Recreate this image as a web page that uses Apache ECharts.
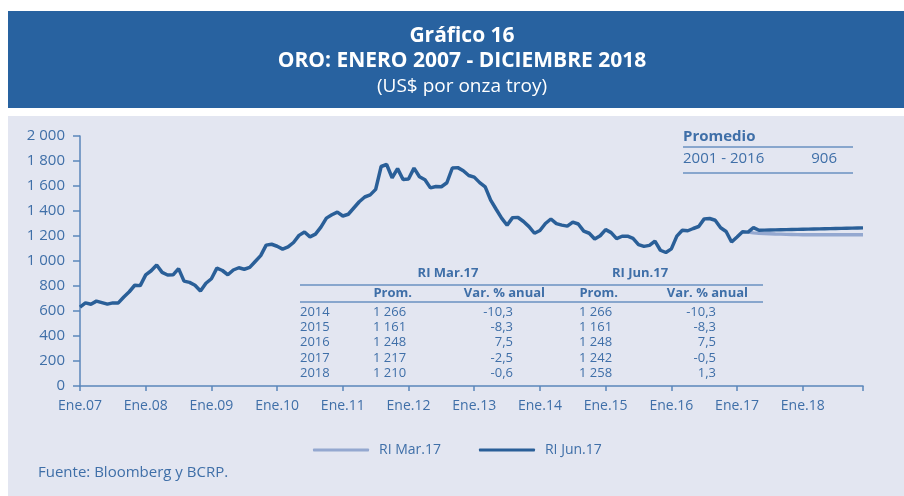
<!DOCTYPE html>
<html><head><meta charset="utf-8">
<script src="https://cdn.jsdelivr.net/npm/echarts@6/dist/echarts.min.js"></script>
<style>html,body{margin:0;padding:0;background:#fff}#c{width:904px;height:496px}</style>
</head><body><div id="c"></div>
<script>
// ---- data ----
const yearsShort = ['07','08','09','10','11','12','13','14','15','16','17','18'];
const monthNames = ['Ene','Feb','Mar','Abr','May','Jun','Jul','Ago','Set','Oct','Nov','Dic'];
const tickLabels = ['Ene.07','Ene.08','Ene.09','Ene.10','Ene.11','Ene.12','Ene.13','Ene.14','Ene.15','Ene.16','Ene.17','Ene.18'];
// Historical monthly average Jan 2007 - Mar 2017
const hist = [
 631,665,654,679,667,655,665,665,712,754,806,803,
 889,922,968,909,888,889,939,839,829,806,760,822,
 858,943,924,890,928,946,934,949,996,1043,1127,1134,
 1118,1095,1113,1148,1205,1232,1193,1215,1271,1343,1370,1391,
 1360,1374,1424,1474,1512,1529,1573,1756,1772,1666,1739,1652,
 1656,1743,1674,1650,1585,1596,1594,1626,1744,1747,1722,1684,
 1671,1627,1593,1487,1414,1343,1286,1347,1348,1316,1275,1222,
 1244,1300,1336,1299,1287,1279,1311,1296,1239,1222,1176,1202,
 1251,1227,1179,1198,1199,1181,1131,1117,1125,1159,1086,1068,
 1097,1199,1246,1242,1260,1276,1337,1340,1326,1266,1236,1152,
 1192,1234,1231
];
// Forecasts Apr 2017 - Dec 2018
const fcJun17 = [1267,1246,1247,1248,1249,1250,1251,1252,1253,1254,1255,1256,1257,1258,1259,1260,1261,1262,1263,1264,1265];
const fcMar17 = [1225,1222,1220,1218,1216,1215,1213,1212,1211,1210,1210,1210,1210,1210,1210,1210,1210,1210,1210,1210,1210];
const seriesNames = ['RI Mar.17','RI Jun.17'];
// Table
const tblYears = ['2014','2015','2016','2017','2018'];
const marProm = ['1 266','1 161','1 248','1 217','1 210'];
const marVar  = ['-10,3','-8,3','7,5','-2,5','-0,6'];
const junProm = ['1 266','1 161','1 248','1 242','1 258'];
const junVar  = ['-10,3','-8,3','7,5','-0,5','1,3'];
const promLabel = '2001 - 2016', promValue = '906';

// ---- build ----
const cats = [];
yearsShort.forEach(y => monthNames.forEach(m => cats.push(m + '.' + y)));
const junData = hist.concat(fcJun17);
const marData = hist.map((v, i) => i >= hist.length - 1 ? v : null).concat(fcMar17);

const TXT = '#3f6fa8';
const FONT = '"Open Sans", sans-serif';
const LINEC = '#6a90c0';

const g = [];
g.push({type:'rect', z:-10, silent:true, shape:{x:8,y:11,width:896,height:97}, style:{fill:'#2862a0'}});
g.push({type:'rect', z:-10, silent:true, shape:{x:8,y:116,width:896,height:380}, style:{fill:'#e3e6f1'}});
g.push({type:'text', style:{text:'Gráfico 16', x:462, y:36, align:'center', verticalAlign:'middle', font:'bold 21px '+FONT, fill:'#fff'}});
g.push({type:'text', style:{text:'ORO: ENERO 2007 - DICIEMBRE 2018', x:462, y:61, align:'center', verticalAlign:'middle', font:'bold 21px '+FONT, fill:'#fff'}});
g.push({type:'text', style:{text:'(US$ por onza troy)', x:462, y:87, align:'center', verticalAlign:'middle', font:'19px '+FONT, fill:'#fff'}});
// Promedio box
g.push({type:'text', style:{text:'Promedio', x:683, y:137, verticalAlign:'middle', font:'bold 15px '+FONT, fill:TXT}});
g.push({type:'line', shape:{x1:683,y1:147,x2:853,y2:147}, style:{stroke:LINEC, lineWidth:1.5}});
g.push({type:'text', style:{text:promLabel, x:683, y:159, verticalAlign:'middle', font:'15px '+FONT, fill:TXT}});
g.push({type:'text', style:{text:promValue, x:837, y:159, align:'right', verticalAlign:'middle', font:'15px '+FONT, fill:TXT}});
g.push({type:'line', shape:{x1:683,y1:173,x2:853,y2:173}, style:{stroke:LINEC, lineWidth:1.5}});
// Table
g.push({type:'text', style:{text:'RI Mar.17', x:448, y:273, align:'center', verticalAlign:'middle', font:'bold 13px '+FONT, fill:TXT}});
g.push({type:'text', style:{text:'RI Jun.17', x:640, y:273, align:'center', verticalAlign:'middle', font:'bold 13px '+FONT, fill:TXT}});
g.push({type:'line', shape:{x1:300,y1:285,x2:763,y2:285}, style:{stroke:LINEC, lineWidth:1.5}});
[['Prom.',412],['Var. % anual',545],['Prom.',618],['Var. % anual',748]].forEach(h => {
  g.push({type:'text', style:{text:h[0], x:h[1], y:293, align:'right', verticalAlign:'middle', font:'bold 13px '+FONT, fill:TXT}});
});
g.push({type:'line', shape:{x1:300,y1:302,x2:763,y2:302}, style:{stroke:LINEC, lineWidth:1.5}});
tblYears.forEach((yr, i) => {
  const y = 312 + i * 15.3;
  const f = '13px ' + FONT;
  g.push({type:'text', style:{text:yr, x:300, y, verticalAlign:'middle', font:f, fill:TXT}});
  g.push({type:'text', style:{text:marProm[i], x:373, y, verticalAlign:'middle', font:f, fill:TXT}});
  g.push({type:'text', style:{text:marVar[i], x:513, y, align:'right', verticalAlign:'middle', font:f, fill:TXT}});
  g.push({type:'text', style:{text:junProm[i], x:579, y, verticalAlign:'middle', font:f, fill:TXT}});
  g.push({type:'text', style:{text:junVar[i], x:716, y, align:'right', verticalAlign:'middle', font:f, fill:TXT}});
});
g.push({type:'text', style:{text:'Fuente: Bloomberg y BCRP.', x:38, y:473, verticalAlign:'middle', font:'15px '+FONT, fill:TXT}});

const chart = echarts.init(document.getElementById('c'), null, {renderer:'canvas'});
chart.setOption({
  backgroundColor:'#fff',
  animation:false,
  textStyle:{fontFamily:FONT},
  grid:{left:80, right:41, top:136, bottom:110, containLabel:false},
  legend:{
    data:seriesNames, left:308, top:438, itemWidth:56, itemHeight:3, itemGap:38,
    icon:'roundRect',
    textStyle:{color:TXT, fontSize:14, fontFamily:FONT, padding:[0,0,0,5]}
  },
  xAxis:{
    type:'category', data:cats, boundaryGap:false,
    axisLine:{lineStyle:{color:'#5b86ba', width:1.5}},
    axisTick:{show:true, length:5, interval:(i)=> i % 12 === 0 || i === cats.length-1, lineStyle:{color:'#5b86ba', width:1.5}},
    axisLabel:{color:TXT, fontSize:14, margin:13, interval:(i)=> i % 12 === 0,
      formatter:(v,i)=> tickLabels[Math.floor(i/12)] || ''},
    splitLine:{show:false}
  },
  yAxis:{
    type:'value', min:0, max:2000, interval:200,
    axisLine:{show:true, lineStyle:{color:'#5b86ba', width:1.5}},
    axisTick:{show:true, length:7, lineStyle:{color:'#5b86ba', width:1.5}},
    axisLabel:{color:TXT, fontSize:15, margin:15,
      formatter:(v)=> String(v).replace(/\B(?=(\d{3})+(?!\d))/g,' ')},
    splitLine:{show:false}
  },
  series:[
    {name:seriesNames[0], type:'line', data:marData, showSymbol:false, symbol:'none', connectNulls:false,
      lineStyle:{color:'#94a8d0', width:3.5}, itemStyle:{color:'#94a8d0'}, z:2},
    {name:seriesNames[1], type:'line', data:junData, showSymbol:false, symbol:'none',
      lineStyle:{color:'#2a5f98', width:3.5}, itemStyle:{color:'#2a5f98'}, z:3}
  ],
  graphic:g
});
</script></body></html>
